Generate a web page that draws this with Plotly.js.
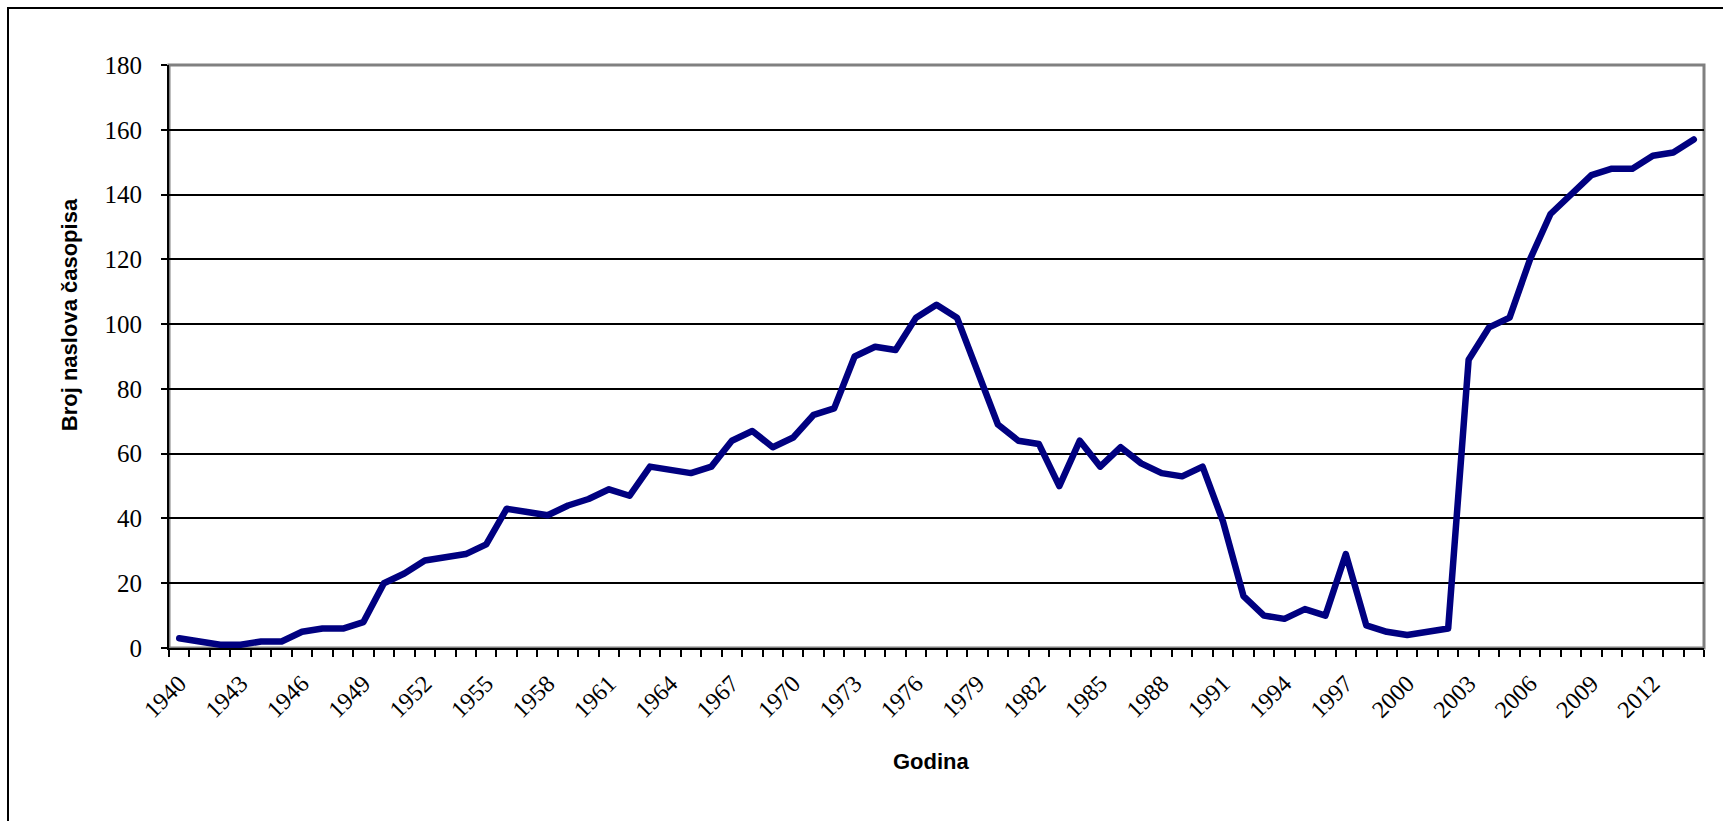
<!DOCTYPE html>
<html>
<head>
<meta charset="utf-8">
<script src="https://cdn.plot.ly/plotly-3.0.1.min.js"></script>
<style>
  html, body { margin: 0; padding: 0; background: #fff; overflow: hidden; }
  #wrap { position: relative; width: 1723px; height: 821px; overflow: hidden; }
  #chart { position: absolute; left: 0; top: 0; width: 1723px; height: 821px; }
  #frame { position: absolute; left: 7px; top: 7px; width: 1800px; height: 900px; border: 2px solid #000; pointer-events: none; }
  #chart path.js-line { stroke-linejoin: round; stroke-linecap: round; }
</style>
</head>
<body>
<div id="wrap">
  <div id="chart"></div>
  <div id="frame"></div>
</div>
<script>
const years = [
  1940, 1941, 1942, 1943, 1944, 1945, 1946, 1947, 1948, 1949,
  1950, 1951, 1952, 1953, 1954, 1955, 1956, 1957, 1958, 1959,
  1960, 1961, 1962, 1963, 1964, 1965, 1966, 1967, 1968, 1969,
  1970, 1971, 1972, 1973, 1974, 1975, 1976, 1977, 1978, 1979,
  1980, 1981, 1982, 1983, 1984, 1985, 1986, 1987, 1988, 1989,
  1990, 1991, 1992, 1993, 1994, 1995, 1996, 1997, 1998, 1999,
  2000, 2001, 2002, 2003, 2004, 2005, 2006, 2007, 2008, 2009,
  2010, 2011, 2012, 2013, 2014
];
const journalTitles = [
  3, 2, 1, 1, 2, 2, 5, 6, 6, 8,
  20, 23, 27, 28, 29, 32, 43, 42, 41, 44,
  46, 49, 47, 56, 55, 54, 56, 64, 67, 62,
  65, 72, 74, 90, 93, 92, 102, 106, 102, 85,
  69, 64, 63, 50, 64, 56, 62, 57, 54, 53,
  56, 39, 16, 10, 9, 12, 10, 29, 7, 5,
  4, 5, 6, 89, 99, 102, 120, 134, 140, 146,
  148, 148, 152, 153, 157
];
const tickYears = [1940, 1943, 1946, 1949, 1952, 1955, 1958, 1961, 1964, 1967, 1970, 1973, 1976,
  1979, 1982, 1985, 1988, 1991, 1994, 1997, 2000, 2003, 2006, 2009, 2012];
const tickLabels = ["1940", "1943", "1946", "1949", "1952", "1955", "1958", "1961", "1964", "1967", "1970", "1973", "1976",
  "1979", "1982", "1985", "1988", "1991", "1994", "1997", "2000", "2003", "2006", "2009", "2012"];
const yTitle = "Broj naslova časopisa";
const xTitle = "Godina";

const serif = "Liberation Serif, Times New Roman, serif";
const sans = "Liberation Sans, Arial, sans-serif";

const trace = {
  x: years,
  y: journalTitles,
  type: "scatter",
  mode: "lines",
  line: { color: "#000080", width: 6.5 },
  hoverinfo: "x+y"
};

const layout = {
  width: 1723,
  height: 821,
  margin: { l: 169, r: 19, t: 65, b: 173 },
  paper_bgcolor: "#ffffff",
  plot_bgcolor: "#ffffff",
  showlegend: false,
  xaxis: {
    range: [1939.5, 2014.5],
    tickmode: "array",
    tickvals: tickYears,
    ticktext: tickLabels,
    tickangle: -45,
    ticks: "",
    ticklabelstandoff: 10,
    tickfont: { family: serif, size: 24, color: "#000" },
    showgrid: false,
    zeroline: false,
    showline: true,
    linecolor: "#000",
    linewidth: 2,
    minor: { tickmode: "linear", tick0: 1939.5, dtick: 1, ticks: "outside", ticklen: 7, tickwidth: 2, tickcolor: "#000", showgrid: false },
    fixedrange: true
  },
  yaxis: {
    range: [0, 180],
    tickmode: "linear",
    tick0: 0,
    dtick: 20,
    ticks: "outside",
    ticklen: 6,
    tickwidth: 2,
    tickcolor: "#000",
    ticklabelstandoff: 14,
    tickfont: { family: serif, size: 25, color: "#000" },
    showgrid: true,
    gridcolor: "#000",
    gridwidth: 1.5,
    zeroline: false,
    showline: true,
    linecolor: "#000",
    linewidth: 2,
    fixedrange: true
  },
  shapes: [
    { type: "rect", xref: "paper", yref: "paper", x0: 0, x1: 1, y0: 0, y1: 1,
      line: { color: "#808080", width: 3 }, layer: "below" }
  ],
  annotations: [
    { text: xTitle, xref: "paper", yref: "paper", x: 0.497, y: -0.1955,
      xanchor: "center", yanchor: "middle", showarrow: false,
      font: { family: sans, size: 22, color: "#000", weight: "bold" } },
    { text: yTitle, xref: "paper", yref: "paper", x: -0.0651, y: 0.571,
      xanchor: "center", yanchor: "middle", showarrow: false, textangle: -90,
      font: { family: sans, size: 22, color: "#000", weight: "bold" } }
  ]
};

Plotly.newPlot("chart", [trace], layout, { displayModeBar: false, staticPlot: false });
</script>
</body>
</html>
